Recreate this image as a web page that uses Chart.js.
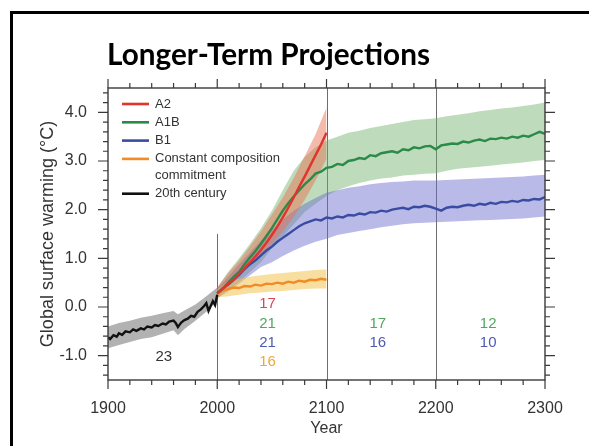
<!DOCTYPE html>
<html>
<head>
<meta charset="utf-8">
<script src="https://cdn.jsdelivr.net/npm/chart.js@4.4.1/dist/chart.umd.min.js"></script>
<style>
  html, body { margin: 0; padding: 0; background: #fff; }
  #wrap { position: relative; width: 589px; height: 446px; }
</style>
</head>
<body>
<div id="wrap"><canvas id="chart" width="589" height="446"></canvas></div>
<script>
// ---- data ----
const titleText = "Longer-Term Projections";
const xTickYears = [1900, 2000, 2100, 2200, 2300];
const yTickValues = [-1, 0, 1, 2, 3, 4];
const seriesLabels = ["A2", "A1B", "B1", ["Constant composition", "commitment"], "20th century"];

// 20th century (black)
const years20c = [1900, 1902, 1905, 1908, 1910, 1913, 1916, 1920, 1923, 1926, 1930, 1933, 1936, 1940, 1943, 1946, 1950, 1953,
  1956, 1960, 1962, 1964, 1967, 1970, 1973, 1976, 1979, 1982, 1985, 1988, 1990, 1992, 1994, 1996, 1998, 2000];
const temp20c = [-0.62, -0.66, -0.58, -0.61, -0.54, -0.57, -0.50, -0.52, -0.46, -0.49, -0.44, -0.46, -0.40, -0.42, -0.37, -0.39, -0.34, -0.36,
  -0.30, -0.28, -0.33, -0.41, -0.32, -0.27, -0.24, -0.18, -0.20, -0.10, -0.05, 0.02, 0.08, -0.08, 0.02, 0.12, 0.04, 0.25];
const bandYears20c = [1900, 1910, 1920, 1930, 1940, 1950, 1960, 1964, 1970, 1980, 1990, 2000];
const band20cHigh = [-0.40, -0.33, -0.28, -0.22, -0.18, -0.13, -0.08, -0.15, -0.07, 0.05, 0.22, 0.40];
const band20cLow = [-0.85, -0.78, -0.72, -0.66, -0.62, -0.55, -0.48, -0.58, -0.45, -0.28, -0.10, 0.12];

// 21st century runs, every 5 years 2000-2100
const years21 = [2000, 2005, 2010, 2015, 2020, 2025, 2030, 2035, 2040, 2045, 2050, 2055, 2060, 2065, 2070, 2075, 2080, 2085, 2090, 2095, 2100];
const a2 = [0.28, 0.38, 0.48, 0.56, 0.68, 0.80, 0.92, 1.04, 1.17, 1.32, 1.48, 1.65, 1.84, 2.04, 2.25, 2.47, 2.68, 2.90, 3.12, 3.34, 3.58];
const commit = [0.28, 0.34, 0.37, 0.40, 0.39, 0.43, 0.42, 0.46, 0.44, 0.48, 0.47, 0.50, 0.48, 0.52, 0.50, 0.54, 0.52, 0.56, 0.55, 0.58, 0.56];

// long runs, every 5 years 2000-2300
const yearsLong = [2000, 2005, 2010, 2015, 2020, 2025, 2030, 2035, 2040, 2045, 2050, 2055, 2060, 2065, 2070, 2075, 2080, 2085, 2090, 2095,
  2100, 2105, 2110, 2115, 2120, 2125, 2130, 2135, 2140, 2145, 2150, 2155, 2160, 2165, 2170, 2175, 2180, 2185, 2190, 2195,
  2200, 2205, 2210, 2215, 2220, 2225, 2230, 2235, 2240, 2245, 2250, 2255, 2260, 2265, 2270, 2275, 2280, 2285, 2290, 2295, 2300];
const a1b = [0.28, 0.38, 0.50, 0.62, 0.72, 0.88, 1.02, 1.15, 1.30, 1.46, 1.62, 1.80, 1.98, 2.13, 2.27, 2.40, 2.52, 2.62, 2.74, 2.78,
  2.86, 2.88, 2.94, 2.92, 3.00, 3.02, 3.06, 3.04, 3.12, 3.10, 3.16, 3.18, 3.20, 3.17, 3.24, 3.22, 3.28, 3.26, 3.30, 3.31,
  3.24, 3.32, 3.34, 3.36, 3.35, 3.40, 3.38, 3.42, 3.44, 3.41, 3.46, 3.45, 3.48, 3.46, 3.50, 3.48, 3.52, 3.50, 3.55, 3.60, 3.56];
const b1 = [0.28, 0.38, 0.46, 0.56, 0.66, 0.78, 0.88, 0.96, 1.06, 1.16, 1.24, 1.34, 1.42, 1.50, 1.58, 1.66, 1.72, 1.76, 1.80, 1.78,
  1.84, 1.82, 1.86, 1.84, 1.89, 1.88, 1.92, 1.90, 1.95, 1.94, 1.98, 1.96, 2.00, 2.02, 2.04, 2.01, 2.06, 2.05, 2.08, 2.06,
  2.02, 1.98, 2.04, 2.06, 2.05, 2.08, 2.10, 2.08, 2.12, 2.10, 2.14, 2.12, 2.16, 2.15, 2.18, 2.16, 2.20, 2.19, 2.22, 2.21, 2.26];

// spread bands, every 10 years
const bandYears21 = [2000, 2010, 2020, 2030, 2040, 2050, 2060, 2070, 2080, 2090, 2100];
const a2High = [0.40, 0.70, 0.95, 1.25, 1.55, 1.90, 2.25, 2.65, 3.10, 3.55, 4.10];
const a2Low = [0.18, 0.42, 0.62, 0.85, 1.05, 1.30, 1.55, 1.85, 2.20, 2.60, 3.05];
const commitHigh = [0.36, 0.52, 0.58, 0.62, 0.65, 0.68, 0.70, 0.72, 0.74, 0.76, 0.77];
const commitLow = [0.20, 0.22, 0.25, 0.28, 0.30, 0.32, 0.33, 0.35, 0.37, 0.38, 0.38];
const bandYearsLong = [2000, 2010, 2020, 2030, 2040, 2050, 2060, 2070, 2080, 2090, 2100, 2110, 2120, 2130, 2140, 2150,
  2160, 2170, 2180, 2190, 2200, 2210, 2220, 2230, 2240, 2250, 2260, 2270, 2280, 2290, 2300];
const a1bHigh = [0.40, 0.72, 1.00, 1.30, 1.62, 1.98, 2.40, 2.80, 3.08, 3.28, 3.42, 3.50, 3.58, 3.62, 3.68, 3.72,
  3.76, 3.80, 3.84, 3.86, 3.88, 3.92, 3.95, 3.98, 4.02, 4.05, 4.08, 4.10, 4.13, 4.16, 4.20];
const a1bLow = [0.18, 0.35, 0.52, 0.72, 0.92, 1.20, 1.45, 1.70, 1.95, 2.12, 2.28, 2.40, 2.48, 2.55, 2.60, 2.64,
  2.66, 2.70, 2.72, 2.74, 2.75, 2.80, 2.84, 2.86, 2.88, 2.90, 2.93, 2.95, 2.97, 3.00, 3.02];
const b1High = [0.38, 0.62, 0.88, 1.12, 1.36, 1.58, 1.80, 1.98, 2.12, 2.24, 2.35, 2.40, 2.45, 2.48, 2.52, 2.55,
  2.57, 2.58, 2.60, 2.60, 2.60, 2.61, 2.62, 2.63, 2.64, 2.65, 2.66, 2.67, 2.68, 2.70, 2.72];
const b1Low = [0.18, 0.32, 0.48, 0.65, 0.82, 0.92, 1.05, 1.16, 1.26, 1.34, 1.40, 1.48, 1.52, 1.56, 1.60, 1.64,
  1.67, 1.70, 1.72, 1.73, 1.74, 1.75, 1.76, 1.77, 1.78, 1.79, 1.80, 1.81, 1.82, 1.84, 1.86];

// number of models per period
const count20c = [23];
const countA2 = [17];
const countA1B = [21, 17, 12];
const countB1 = [21, 16, 10];
const countCommit = [16];

// ---- styles ----
const FONT = "'Liberation Sans', Arial, sans-serif";
const colors = {
  a2: "#e0342c", a1b: "#2a8a48", b1: "#3a4ca2", commit: "#f28a26", c20: "#111111",
};
const bandColors = {
  a2: "rgba(232,112,82,0.48)", a1b: "rgba(110,175,105,0.45)", b1: "rgba(105,105,205,0.46)",
  commit: "rgba(242,196,80,0.55)", c20: "rgba(115,115,115,0.55)",
};
const countColors = { c20: "#333333", a2: "#d8465a", a1b: "#4daa5c", b1: "#4a5bb0", commit: "#f0a73a" };

const pts = (xs, ys) => xs.map((x, i) => ({ x: x, y: ys[i] }));
const line = (label, xs, ys, color, order) => ({
  label, data: pts(xs, ys), borderColor: color, backgroundColor: color,
  borderWidth: 2.4, pointRadius: 0, fill: false, tension: 0, order,
});
const band = (xs, ys, color, order, fill) => ({
  label: "", data: pts(xs, ys), borderWidth: 0, borderColor: "rgba(0,0,0,0)",
  backgroundColor: color, pointRadius: 0, tension: 0, fill: fill, order,
});

const datasets = [
  line(seriesLabels[0], years21, a2, colors.a2, 1),
  line(seriesLabels[1], yearsLong, a1b, colors.a1b, 2),
  line(seriesLabels[2], yearsLong, b1, colors.b1, 3),
  line(seriesLabels[3], years21, commit, colors.commit, 4),
  line(seriesLabels[4], years20c, temp20c, colors.c20, 0),
  band(bandYearsLong, a1bLow, bandColors.a1b, 24, false),
  band(bandYearsLong, a1bHigh, bandColors.a1b, 24, "-1"),
  band(bandYearsLong, b1Low, bandColors.b1, 23, false),
  band(bandYearsLong, b1High, bandColors.b1, 23, "-1"),
  band(bandYears21, a2Low, bandColors.a2, 22, false),
  band(bandYears21, a2High, bandColors.a2, 22, "-1"),
  band(bandYears21, commitLow, bandColors.commit, 21, false),
  band(bandYears21, commitHigh, bandColors.commit, 21, "-1"),
  band(bandYears20c, band20cLow, bandColors.c20, 20, false),
  band(bandYears20c, band20cHigh, bandColors.c20, 20, "-1"),
];

const decor = {
  id: "decor",
  beforeDraw(chart) {
    const ctx = chart.ctx;
    ctx.save();
    ctx.fillStyle = "#fff";
    ctx.fillRect(0, 0, chart.width, chart.height);
    // slide frame
    ctx.strokeStyle = "#000";
    ctx.lineWidth = 3;
    ctx.beginPath();
    ctx.moveTo(11.5, chart.height + 2);
    ctx.lineTo(11.5, 12.5);
    ctx.lineTo(chart.width + 2, 12.5);
    ctx.stroke();
    // title, squeezed like the narrow slide font
    ctx.font = "bold 31px Lato, 'Open Sans', sans-serif";
    ctx.fillStyle = "#000";
    const w = ctx.measureText(titleText).width;
    ctx.translate(268.5, 65);
    ctx.scale(323 / w, 1);
    ctx.textAlign = "center";
    ctx.textBaseline = "alphabetic";
    ctx.fillText(titleText, 0, 0);
    ctx.restore();
  },
  beforeDatasetsDraw(chart) {
    const { ctx, scales: { x, y } } = chart;
    ctx.save();
    ctx.strokeStyle = "#6e6e6e";
    ctx.lineWidth = 1;
    [[2000, 1.5], [2100, 4.5], [2200, 4.5]].forEach(([yr, top]) => {
      const px = Math.round(x.getPixelForValue(yr)) + 0.5;
      ctx.beginPath();
      ctx.moveTo(px, y.getPixelForValue(-1.5));
      ctx.lineTo(px, y.getPixelForValue(top));
      ctx.stroke();
    });
    ctx.restore();
  },
  afterDatasetsDraw(chart) {
    const { ctx, chartArea: a, scales: { x, y } } = chart;
    ctx.save();
    // legend
    ctx.font = "13px " + FONT;
    ctx.textBaseline = "middle";
    ctx.textAlign = "left";
    const legendColors = [colors.a2, colors.a1b, colors.b1, colors.commit, colors.c20];
    let ly = 104;
    seriesLabels.forEach((lab, i) => {
      ctx.strokeStyle = legendColors[i];
      ctx.lineWidth = 2.6;
      ctx.beginPath();
      ctx.moveTo(122, ly);
      ctx.lineTo(149, ly);
      ctx.stroke();
      ctx.fillStyle = "#333";
      const lines = Array.isArray(lab) ? lab : [lab];
      lines.forEach((t, k) => ctx.fillText(t, 155, ly + k * 16.5));
      ly += 18.3 + (lines.length - 1) * 16.5;
    });
    // model counts
    ctx.font = "15px " + FONT;
    ctx.textAlign = "center";
    const put = (txt, yr, v, col) => {
      ctx.fillStyle = col;
      ctx.fillText(String(txt), x.getPixelForValue(yr), y.getPixelForValue(v));
    };
    put(count20c[0], 1951, -1.03, countColors.c20);
    put(countA2[0], 2046, 0.06, countColors.a2);
    countA1B.forEach((n, i) => put(n, 2046 + 101 * i, -0.35, countColors.a1b));
    countB1.forEach((n, i) => put(n, 2046 + 101 * i, -0.73, countColors.b1));
    put(countCommit[0], 2046, -1.12, countColors.commit);
    // plot frame and ticks (outward, all four sides)
    ctx.strokeStyle = "#3a3a3a";
    ctx.lineWidth = 1.4;
    ctx.strokeRect(a.left, a.top, a.right - a.left, a.bottom - a.top);
    ctx.lineWidth = 1.2;
    ctx.beginPath();
    for (let yr = 1900; yr <= 2300; yr += 20) {
      const px = x.getPixelForValue(yr);
      const len = yr % 100 === 0 ? 9 : 5;
      ctx.moveTo(px, a.bottom); ctx.lineTo(px, a.bottom + len);
      ctx.moveTo(px, a.top); ctx.lineTo(px, a.top - len);
    }
    for (let k = -7; k <= 22; k++) {
      const v = k / 5;
      const py = y.getPixelForValue(v);
      const len = k % 5 === 0 ? 10 : 5;
      ctx.moveTo(a.left, py); ctx.lineTo(a.left - len, py);
      ctx.moveTo(a.right, py); ctx.lineTo(a.right + len, py);
    }
    ctx.stroke();
    ctx.restore();
  },
};

new Chart(document.getElementById("chart"), {
  type: "line",
  data: { datasets },
  options: {
    responsive: false,
    animation: false,
    events: [],
    layout: { padding: { left: 0, right: 44, top: 88, bottom: 0 } },
    plugins: { legend: { display: false }, tooltip: { enabled: false } },
    scales: {
      x: {
        type: "linear", min: 1900, max: 2300,
        afterBuildTicks: (s) => { s.ticks = xTickYears.map((v) => ({ value: v })); },
        afterFit: (s) => { s.height = 66; },
        grid: { display: false, drawTicks: false },
        border: { display: false },
        ticks: { color: "#333", font: { family: FONT, size: 16 }, padding: 19, maxRotation: 0, callback: (v) => String(v) },
        title: { display: true, text: "Year", color: "#333", font: { family: FONT, size: 16 }, padding: { top: 0, bottom: 8 } },
      },
      y: {
        type: "linear", min: -1.5, max: 4.5,
        afterBuildTicks: (s) => { s.ticks = yTickValues.map((v) => ({ value: v })); },
        afterFit: (s) => { s.width = 108; },
        grid: { display: false, drawTicks: false },
        border: { display: false },
        ticks: { color: "#333", font: { family: FONT, size: 16 }, padding: 21, callback: (v) => Number(v).toFixed(1) },
        title: { display: true, text: "Global surface warming (°C)", color: "#333", font: { family: FONT, size: 18 }, padding: { top: 37, bottom: 0 } },
      },
    },
  },
  plugins: [decor],
});
</script>
</body>
</html>
